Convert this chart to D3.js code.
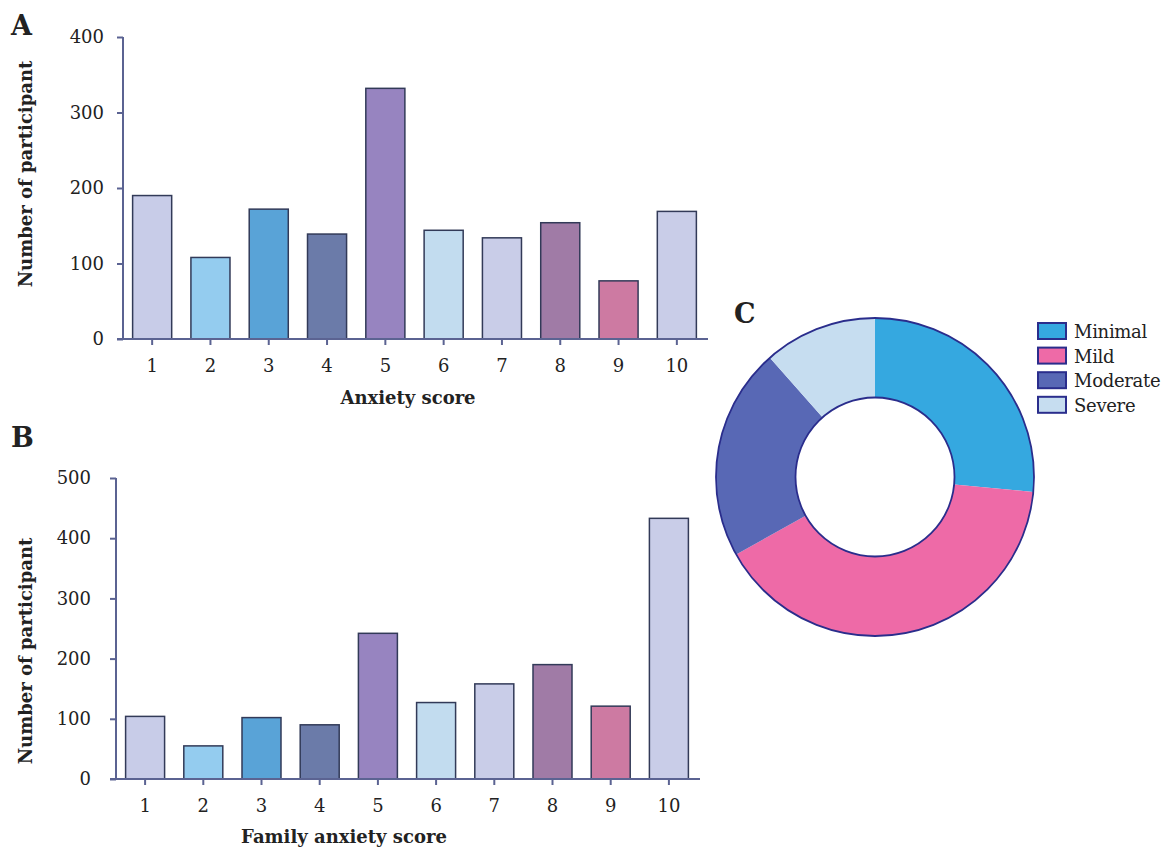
<!DOCTYPE html>
<html>
<head>
<meta charset="utf-8">
<script src="https://cdnjs.cloudflare.com/ajax/libs/d3/7.8.5/d3.min.js"></script>
<style>
  body { margin: 0; background: #fff; }
  svg { display: block; }
  text { font-family: "DejaVu Serif", serif; fill: #222; }
</style>
</head>
<body>
<div id="chart"></div>
<script>
// scores on the x axis of both bar panels
const scores = ["1", "2", "3", "4", "5", "6", "7", "8", "9", "10"];
// panel A: anxiety score
const anxietyCounts = [190, 108, 172, 139, 332, 144, 134, 154, 77, 169];
// panel B: family anxiety score
const familyCounts = [104, 55, 102, 90, 242, 127, 158, 190, 121, 433];
const yTicksA = [0, 100, 200, 300, 400];
const yTicksB = [0, 100, 200, 300, 400, 500];
// panel C: anxiety levels (share, %)
const levels = ["Minimal", "Mild", "Moderate", "Severe"];
const levelShares = [26.5, 40.4, 21.6, 11.5];

const barColors = ["#c8cce8", "#94ccef", "#59a3d7", "#6b7ba9", "#9784c0",
                   "#c2dcef", "#c9cde8", "#a07ba6", "#cd7aa2", "#c9cde8"];
const levelColors = ["#35a8e0", "#ee6aa7", "#5868b5", "#c6ddf0"];
const axisColor = "#5b6392";

const svg = d3.select("#chart").append("svg")
  .attr("width", 1166)
  .attr("height", 848);

function barPanel(opt) {
  const g = svg.append("g");

  const x = d3.scaleBand()
    .domain(scores)
    .range(opt.xRange)
    .paddingInner(0.33)
    .paddingOuter(0.165);

  const y = d3.scaleLinear()
    .domain([0, d3.max(opt.ticks)])
    .range(opt.yRange);

  // bars
  g.selectAll(".bar")
    .data(opt.values)
    .enter().append("rect")
    .attr("class", "bar")
    .attr("x", (d, i) => x(scores[i]))
    .attr("y", d => y(d))
    .attr("width", x.bandwidth())
    .attr("height", d => y(0) - y(d))
    .attr("fill", (d, i) => barColors[i])
    .attr("stroke", "#323a58")
    .attr("stroke-width", 1.5);

  // y axis
  const yAxis = g.append("g")
    .attr("transform", "translate(" + opt.xRange[0] + ",0)")
    .call(d3.axisLeft(y).tickValues(opt.ticks).tickSize(6).tickSizeOuter(0)
      .tickPadding(opt.yPad));
  yAxis.select(".domain").remove();
  yAxis.append("line")
    .attr("x1", 0).attr("x2", 0)
    .attr("y1", y(0)).attr("y2", y(d3.max(opt.ticks)))
    .attr("stroke", axisColor).attr("stroke-width", 2);

  // x axis
  const xAxis = g.append("g")
    .attr("transform", "translate(0," + y(0) + ")")
    .call(d3.axisBottom(x).tickSize(6).tickSizeOuter(0).tickPadding(14));
  xAxis.select(".domain").remove();
  xAxis.append("line")
    .attr("x1", opt.xRange[0] - 6).attr("x2", opt.xRange[1] + 2)
    .attr("y1", 0).attr("y2", 0)
    .attr("stroke", axisColor).attr("stroke-width", 2);

  g.selectAll(".tick line").attr("stroke", axisColor).attr("stroke-width", 2);
  g.selectAll(".tick text")
    .style("font-family", "DejaVu Serif, serif")
    .style("font-size", "18px")
    .attr("fill", "#222");

  // titles
  g.append("text")
    .attr("x", opt.xTitle[0]).attr("y", opt.xTitle[1])
    .attr("text-anchor", "middle")
    .style("font-size", "18px").style("font-weight", "bold")
    .text(opt.xLabel);

  g.append("text")
    .attr("transform", "translate(" + opt.yTitle[0] + "," + opt.yTitle[1] + ") rotate(-90)")
    .attr("text-anchor", "middle")
    .style("font-size", "18px").style("font-weight", "bold")
    .text("Number of participant");

  g.append("text")
    .attr("x", opt.letter[0]).attr("y", opt.letter[1])
    .style("font-size", "27px").style("font-weight", "bold")
    .text(opt.name);
}

barPanel({
  name: "A",
  values: anxietyCounts,
  ticks: yTicksA,
  xRange: [123, 706],
  yRange: [339, 37],
  yPad: 13,
  xLabel: "Anxiety score",
  xTitle: [408, 404],
  yTitle: [32, 174],
  letter: [11, 35]
});

barPanel({
  name: "B",
  values: familyCounts,
  ticks: yTicksB,
  xRange: [116, 698],
  yRange: [779, 478],
  yPad: 19,
  xLabel: "Family anxiety score",
  xTitle: [344, 843],
  yTitle: [32, 651],
  letter: [11, 447]
});

// panel C donut
const cx = 875, cy = 477;
const pie = d3.pie().sort(null).value(d => d);
const arc = d3.arc().innerRadius(79.5).outerRadius(159);

const donut = svg.append("g").attr("transform", "translate(" + cx + "," + cy + ")");
donut.selectAll("path")
  .data(pie(levelShares))
  .enter().append("path")
  .attr("d", arc)
  .attr("fill", (d, i) => levelColors[i])
  .attr("stroke", "none");
// outlines of the ring
donut.append("circle").attr("r", 159)
  .attr("fill", "none").attr("stroke", "#2a2d8c").attr("stroke-width", 1.8);
donut.append("circle").attr("r", 79.5)
  .attr("fill", "none").attr("stroke", "#2a2d8c").attr("stroke-width", 1.8);

svg.append("text")
  .attr("x", 734).attr("y", 323)
  .style("font-size", "27px").style("font-weight", "bold")
  .text("C");

// legend
const legend = svg.append("g").attr("transform", "translate(1038,323)");
const item = legend.selectAll(".item")
  .data(levels)
  .enter().append("g")
  .attr("class", "item")
  .attr("transform", (d, i) => "translate(0," + i * 24.6 + ")");
item.append("rect")
  .attr("width", 28).attr("height", 16)
  .attr("fill", (d, i) => levelColors[i])
  .attr("stroke", "#2a2d8c").attr("stroke-width", 2);
item.append("text")
  .attr("x", 36).attr("y", 15)
  .style("font-size", "18px")
  .style("letter-spacing", "-0.3px")
  .text(d => d);
</script>
</body>
</html>
